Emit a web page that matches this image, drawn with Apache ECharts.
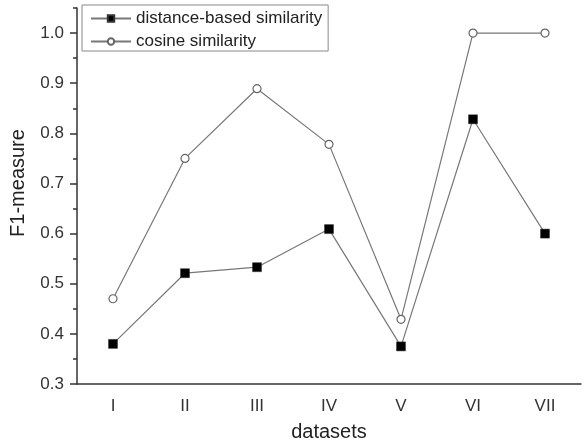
<!DOCTYPE html>
<html>
<head>
<meta charset="utf-8">
<script src="https://cdn.jsdelivr.net/npm/echarts@6/dist/echarts.min.js"></script>
<style>html,body{margin:0;padding:0;background:#fff}#c{width:585px;height:447px}</style>
</head>
<body>
<div id="c"></div>
<script>
var categories = ['I', 'II', 'III', 'IV', 'V', 'VI', 'VII'];
var distanceValues = [0.38, 0.521, 0.533, 0.609, 0.375, 0.828, 0.6];
var cosineValues = [0.47, 0.75, 0.889, 0.778, 0.429, 1.0, 1.0];
var yMajorTicks = [0.3, 0.4, 0.5, 0.6, 0.7, 0.8, 0.9, 1.0];
var yMinorTicks = [0.35, 0.45, 0.55, 0.65, 0.75, 0.85, 0.95, 1.05];

var font = 'Liberation Sans, Arial, sans-serif';
var axisColor = '#333';
var chart = echarts.init(document.getElementById('c'), null, {renderer: 'canvas'});
chart.setOption({
  animation: false,
  backgroundColor: '#fff',
  grid: {left: 76, right: 4, top: 8, bottom: 62, containLabel: false},
  legend: {
    orient: 'vertical',
    left: 82, top: 5,
    padding: [5, 6, 1, 8],
    itemGap: 6,
    itemWidth: 40,
    itemHeight: 8,
    borderColor: '#888',
    borderWidth: 1,
    textStyle: {fontFamily: font, fontSize: 17, color: '#222'},
    data: ['distance-based similarity', 'cosine similarity']
  },
  xAxis: [{
    type: 'category',
    data: categories,
    position: 'bottom',
    boundaryGap: true,
    name: 'datasets',
    nameLocation: 'middle',
    nameGap: 38,
    nameTextStyle: {fontFamily: font, fontSize: 20, color: '#222'},
    axisLine: {lineStyle: {color: axisColor, width: 1.5}},
    axisTick: {alignWithLabel: true, length: 7, lineStyle: {color: axisColor, width: 1.5}},
    axisLabel: {fontFamily: font, fontSize: 17, color: '#333', margin: 14},
    splitLine: {show: false}
  }, {
    type: 'category',
    data: categories,
    position: 'bottom',
    boundaryGap: true,
    axisLine: {show: false},
    axisTick: {length: 4, lineStyle: {color: axisColor, width: 1.5}},
    axisLabel: {show: false},
    splitLine: {show: false}
  }],
  yAxis: [{
    type: 'value',
    position: 'left',
    min: 0.3, max: 1.05, interval: 0.1,
    name: 'F1-measure',
    nameLocation: 'middle',
    nameGap: 49,
    nameTextStyle: {fontFamily: font, fontSize: 20, color: '#222', padding: [0, 0, 0, 26]},
    axisLine: {show: true, lineStyle: {color: axisColor, width: 1.5}},
    axisTick: {show: true, length: 7, customValues: yMajorTicks, lineStyle: {color: axisColor, width: 1.5}},
    axisLabel: {fontFamily: font, fontSize: 17, color: '#333', margin: 13, customValues: yMajorTicks,
      formatter: function (v) { return Number(v).toFixed(1); }},
    splitLine: {show: false}
  }, {
    type: 'value',
    position: 'left',
    min: 0.3, max: 1.05, interval: 0.1,
    axisLine: {show: false},
    axisTick: {show: true, length: 4, customValues: yMinorTicks, lineStyle: {color: axisColor, width: 1.5}},
    axisLabel: {show: false},
    splitLine: {show: false}
  }],
  series: [{
    name: 'distance-based similarity',
    type: 'line',
    xAxisIndex: 0, yAxisIndex: 0,
    data: distanceValues,
    symbol: 'rect',
    symbolSize: 9,
    itemStyle: {color: '#000', borderColor: '#333', borderWidth: 0.5},
    lineStyle: {color: '#777', width: 1.2}
  }, {
    name: 'cosine similarity',
    type: 'line',
    xAxisIndex: 0, yAxisIndex: 0,
    data: cosineValues,
    symbol: 'circle',
    symbolSize: 8,
    itemStyle: {color: '#fff', borderColor: '#666', borderWidth: 1.2},
    lineStyle: {color: '#777', width: 1.2}
  }]
});
</script>
</body>
</html>
